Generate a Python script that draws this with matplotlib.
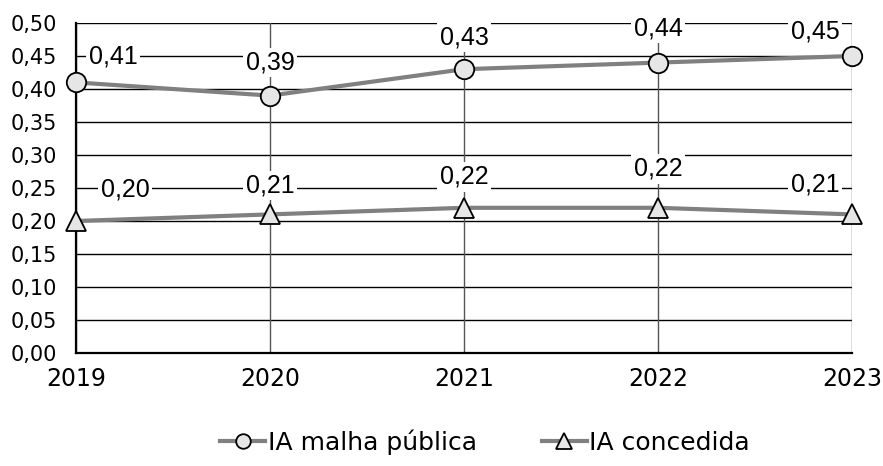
import matplotlib
matplotlib.use("Agg")
import matplotlib.pyplot as plt

years = ["2019", "2020", "2021", "2022", "2023"]
ia_malha = [0.41, 0.39, 0.43, 0.44, 0.45]
ia_conc = [0.20, 0.21, 0.22, 0.22, 0.21]
yticks = [0.00, 0.05, 0.10, 0.15, 0.20, 0.25, 0.30, 0.35, 0.40, 0.45, 0.50]

# label offsets in pixels (dx, dy) relative to the point
off_malha = [(37, 26), (0, 33), (0, 32), (0, 34), (-37, 25)]
off_conc = [(49, 31), (0, 29), (0, 31), (0, 39), (-37, 30)]

fig = plt.figure(figsize=(8.83, 4.66), dpi=100)
ax = fig.add_axes([76/883, 1-353/466, (852-76)/883, (353-23)/466])

x = list(range(len(years)))
ax.set_xlim(0, len(years)-1)
ax.set_ylim(0, 0.5)
for v in yticks:
    ax.axhline(v, color="black", lw=1.0, zorder=1)
for xi in x:
    ax.axvline(xi, color="#555555", lw=1.0, zorder=1)

ax.plot(x, ia_malha, color="#808080", lw=3, marker="o", ms=14,
        mfc="#e6e6e6", mec="black", mew=1.3, zorder=4, clip_on=False,
        label="IA malha pública")
ax.plot(x, ia_conc, color="#808080", lw=3, marker="^", ms=15,
        mfc="#e6e6e6", mec="black", mew=1.3, zorder=4, clip_on=False,
        label="IA concedida")

k = 0.72
for series, offs in ((ia_malha, off_malha), (ia_conc, off_conc)):
    for xi, v, (dx, dy) in zip(x, series, offs):
        ax.annotate(f"{v:.2f}".replace(".", ","), (xi, v), xytext=(dx*k, dy*k),
                    textcoords="offset points", ha="center", va="center",
                    fontsize=18, family="Liberation Sans", zorder=5,
                    bbox=dict(facecolor="white", edgecolor="none", pad=2),
                    annotation_clip=False)

ax.set_xticks(x)
ax.set_xticklabels(years, fontsize=17, family="DejaVu Sans")
ax.set_yticks(yticks)
ax.set_yticklabels([f"{v:.2f}".replace(".", ",") for v in yticks], fontsize=15, family="DejaVu Sans")
ax.tick_params(axis="y", length=0, pad=14)
ax.tick_params(axis="x", length=0, pad=10)
for s in ["top", "right"]:
    ax.spines[s].set_visible(False)
for s in ["left", "bottom"]:
    ax.spines[s].set_linewidth(1.6)
    ax.spines[s].set_zorder(2)

leg = fig.legend(loc="center", bbox_to_anchor=(485/883, 1-442/466), ncol=2,
                 frameon=False, prop={"family": "DejaVu Sans", "size": 18},
                 handlelength=1.8, columnspacing=2.6, handletextpad=0.1,
                 markerscale=0.75)
fig.savefig("out.png", dpi=100)
